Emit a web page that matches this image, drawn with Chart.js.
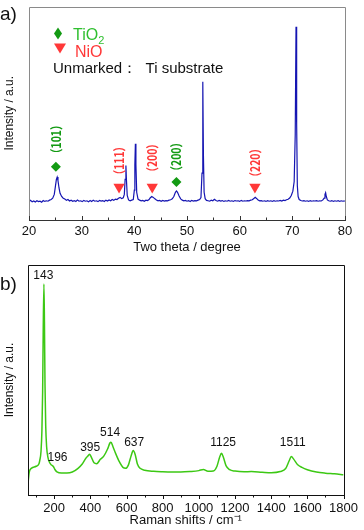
<!DOCTYPE html>
<html><head><meta charset="utf-8">
<script src="https://cdn.jsdelivr.net/npm/chart.js@4/dist/chart.umd.min.js"></script>
<style>
html,body{margin:0;padding:0;background:#fff;width:364px;height:530px;overflow:hidden}
#w1{position:absolute;left:0;top:0;width:364px;height:260px}
#w2{position:absolute;left:0;top:260px;width:364px;height:270px}
.pl{position:absolute;left:0;font-family:"Liberation Sans",Arial,sans-serif;font-size:19px;line-height:1;color:#111}
</style></head><body>
<div id="w1"><canvas id="c1" width="364" height="260"></canvas></div>
<div id="w2"><canvas id="c2" width="364" height="270"></canvas></div>
<div class="pl" style="top:4px">a)</div>
<div class="pl" style="top:274px">b)</div>
<script>
// ---------- Panel a: XRD ----------
const xrdTheta = [20.0,20.3,20.6,20.9,21.2,21.5,21.8,22.1,22.4,22.7,23.0,23.3,23.6,23.9,24.2,24.5,24.8,25.0,25.2,25.35,25.5,25.7,25.9,26.2,26.5,26.8,27.1,27.4,27.7,28.0,28.3,28.6,28.9,29.2,29.5,29.8,30.1,30.4,30.7,31.0,31.3,31.6,31.9,32.2,32.5,32.8,33.1,33.4,33.7,34.0,34.3,34.6,34.9,35.2,35.5,35.8,36.1,36.4,36.7,37.0,37.3,37.6,37.9,38.1,38.25,38.4,38.5,38.65,38.9,39.2,39.5,39.8,40.0,40.1,40.2,40.3,40.45,40.7,41.0,41.3,41.6,41.9,42.2,42.5,42.8,43.0,43.3,43.6,43.9,44.2,44.5,44.8,45.1,45.4,45.7,46.0,46.3,46.6,46.9,47.2,47.5,47.8,48.0,48.2,48.5,48.8,49.1,49.4,49.7,50.0,50.3,50.6,50.9,51.2,51.5,51.8,52.1,52.4,52.65,52.85,53.0,53.12,53.25,53.45,53.7,54.0,54.3,54.6,54.9,55.2,55.5,55.8,56.1,56.4,56.7,57.0,57.3,57.6,57.9,58.2,58.5,58.8,59.1,59.4,59.7,60.0,60.3,60.6,60.9,61.2,61.5,61.8,62.1,62.4,62.7,62.95,63.2,63.5,63.8,64.1,64.4,64.7,65.0,65.3,65.6,65.9,66.2,66.5,66.8,67.1,67.4,67.7,68.0,68.3,68.6,68.9,69.2,69.5,69.8,70.1,70.35,70.55,70.7,70.82,70.95,71.1,71.3,71.6,71.9,72.2,72.5,72.8,73.1,73.4,73.7,74.0,74.3,74.6,74.9,75.2,75.5,75.8,76.05,76.2,76.32,76.45,76.65,76.9,77.2,77.5,77.8,78.1,78.4,78.7,79.0,79.3,79.6,80.0];
const xrdIntensity = [8.6,9.2,8.5,8.9,8.4,9.0,8.6,8.8,8.3,9.1,8.7,9.0,8.8,9.3,9.6,10.2,12.0,15.5,19.0,20.1,18.5,15.0,12.5,11.0,10.2,9.8,9.2,9.6,8.9,9.3,8.8,9.1,8.7,9.4,8.8,9.0,8.6,9.2,8.8,9.0,8.5,9.1,8.7,9.3,8.8,9.0,8.6,9.2,8.9,9.1,8.7,9.3,8.9,9.4,9.0,9.6,9.2,9.8,9.6,10.2,10.6,10.0,10.4,12.0,19.0,25.5,19.0,11.5,9.4,9.0,9.3,9.6,14.0,26.0,35.7,26.0,13.0,9.8,9.3,9.0,9.2,8.8,9.3,9.1,9.6,10.3,11.0,10.6,9.9,9.4,9.0,9.2,8.8,9.2,8.9,9.1,9.0,9.3,9.5,9.9,11.0,13.0,13.6,13.0,11.2,9.9,9.3,9.0,9.2,8.8,9.1,8.7,9.2,8.9,9.1,9.0,9.3,9.6,10.5,22.0,64.8,30.0,13.0,10.0,9.2,9.0,8.8,9.3,9.0,9.7,9.1,8.8,9.2,8.9,9.1,8.7,9.0,8.8,9.2,8.8,9.0,8.7,9.1,8.9,9.0,8.7,9.2,8.8,9.0,8.9,9.1,9.0,9.3,9.5,10.1,10.6,10.1,9.4,9.0,9.1,8.8,9.0,8.7,9.1,8.8,9.0,8.7,9.1,8.8,9.0,8.9,9.2,8.9,9.3,9.1,9.5,9.7,10.3,11.5,13.5,18.0,40.0,90.5,45.0,16.0,11.0,9.6,9.1,8.9,9.1,8.8,9.0,8.7,9.1,8.8,9.0,8.9,9.1,8.8,9.0,8.9,9.4,10.2,12.0,12.8,11.0,9.4,9.0,8.8,9.1,8.7,9.0,8.8,9.1,8.7,9.0,8.8,8.9];
const xrdTickValues = [20,25,30,35,40,45,50,55,60,65,70,75,80];

const tio2Theta = [25.1, 48.0];
const tio2MarkerY = [25.0, 17.8];
const tio2Labels = ['（101）', '（200）'];
const tio2LabelY = [37.8, 29.6];

const nioTheta = [37.1, 43.4, 62.9];
const nioMarkerY = [15.4, 15.4, 15.4];
const nioLabels = ['（111）', '（200）', '（220）'];
const nioLabelY = [27.8, 29.1, 26.8];

// ---------- Panel b: Raman ----------
const ramanShift = [55,62,75,100,115,120,127,132,136,139,143,146,149,153,158,165,175,185,196,203,215,240,270,300,330,355,375,385,395,405,420,435,455,475,495,508,514,525,540,560,580,595,610,625,637,648,660,675,700,750,800,850,900,950,1000,1025,1050,1080,1100,1115,1125,1135,1150,1170,1200,1250,1290,1350,1400,1450,1480,1500,1511,1525,1545,1570,1600,1650,1700,1750,1800];
const ramanIntensity = [5.0,10.0,11.7,12.5,13.5,15.0,19.0,28.0,45.0,70.0,91.7,75.0,48.0,30.0,21.0,16.5,14.0,13.0,12.3,11.2,10.1,9.6,9.6,10.0,11.5,13.5,16.0,16.8,17.7,16.5,14.0,13.6,15.5,17.0,20.0,22.6,22.9,21.0,18.0,14.5,12.0,11.6,13.0,17.0,19.3,17.5,13.5,11.6,10.8,10.3,10.1,10.0,10.0,10.2,10.6,11.1,10.3,10.4,12.5,16.5,18.1,16.5,12.8,11.0,10.4,10.1,10.2,9.9,9.7,10.2,11.5,15.0,16.7,15.5,13.3,12.0,11.0,10.0,9.5,9.2,8.8];
const ramanTickValues = [100,200,300,400,500,600,700,800,900,1000,1100,1200,1300,1400,1500,1600,1700,1800];
const ramanLabels = ['143','196','395','514','637','1125','1511'];
const ramanLabelX = [140,218,399,509,642,1134,1519];
const ramanLabelY = [95.3,16.1,20.4,27.0,22.6,22.6,22.6];

const FONT = '"Liberation Sans", Arial, sans-serif';
Chart.defaults.font.family = FONT;
Chart.defaults.color = '#111';

function tickPlugin(id, inward, color) {
  return {
    id,
    afterDraw(chart) {
      const xs = chart.scales.x, ca = chart.chartArea, ctx = chart.ctx;
      ctx.save();
      ctx.strokeStyle = color; ctx.lineWidth = 1;
      xs.ticks.forEach(t => {
        const px = Math.round(xs.getPixelForValue(t.value)) + 0.5;
        const major = t.label !== '';
        const len = major ? 4 : 2.5;
        const y0 = ca.bottom;
        const y1 = inward ? y0 - len : y0 + len;
        ctx.beginPath(); ctx.moveTo(px, y0); ctx.lineTo(px, y1); ctx.stroke();
      });
      ctx.restore();
    }
  };
}
function framePlugin(id, sideColor, bottomColor) {
  return {
    id,
    afterDraw(chart) {
      const ca = chart.chartArea, ctx = chart.ctx;
      const l = Math.round(ca.left) + 0.5, r = Math.round(ca.right) + 0.5, t = Math.round(ca.top) + 0.5, b = Math.round(ca.bottom) + 0.5;
      ctx.save(); ctx.lineWidth = 1;
      ctx.strokeStyle = sideColor;
      ctx.beginPath(); ctx.moveTo(l, b); ctx.lineTo(l, t); ctx.lineTo(r, t); ctx.lineTo(r, b); ctx.stroke();
      ctx.strokeStyle = bottomColor;
      ctx.beginPath(); ctx.moveTo(l - 0.5, b); ctx.lineTo(r + 0.5, b); ctx.stroke();
      ctx.restore();
    }
  };
}

const GREEN_T = '#2fbf2f', GREEN_D = '#139a13', RED = '#ff3838';

const annotA = {
  id: 'annotA',
  afterDraw(chart) {
    const ctx = chart.ctx, xs = chart.scales.x, ys = chart.scales.y;
    ctx.save();
    ctx.font = 'bold 13px "Noto Sans CJK SC", ' + FONT;
    ctx.textAlign = 'center'; ctx.textBaseline = 'middle';
    const drawRot = (txt, x, y, col) => {
      ctx.save();
      ctx.translate(xs.getPixelForValue(x), ys.getPixelForValue(y));
      ctx.rotate(-Math.PI / 2);
      ctx.scale(0.8, 1);
      ctx.fillStyle = col;
      ctx.fillText(txt, 0, 0);
      ctx.restore();
    };
    tio2Labels.forEach((s, i) => drawRot(s, tio2Theta[i], tio2LabelY[i], GREEN_D));
    nioLabels.forEach((s, i) => drawRot(s, nioTheta[i], nioLabelY[i], RED));
    // legend
    const ca = chart.chartArea;
    const lx = ca.left, ty = ca.top;
    ctx.fillStyle = GREEN_D;
    ctx.beginPath();
    ctx.moveTo(lx + 29, ty + 21); ctx.lineTo(lx + 33, ty + 27); ctx.lineTo(lx + 29, ty + 33); ctx.lineTo(lx + 25, ty + 27); ctx.closePath(); ctx.fill();
    ctx.textAlign = 'left'; ctx.textBaseline = 'alphabetic';
    ctx.font = '16px ' + FONT;
    ctx.fillStyle = GREEN_T;
    ctx.fillText('TiO', lx + 44, ty + 33);
    const w = ctx.measureText('TiO').width;
    ctx.font = '11px ' + FONT;
    ctx.fillText('2', lx + 44 + w, ty + 37);
    ctx.fillStyle = RED;
    ctx.beginPath();
    ctx.moveTo(lx + 25, ty + 37); ctx.lineTo(lx + 37, ty + 37); ctx.lineTo(lx + 31, ty + 47); ctx.closePath(); ctx.fill();
    ctx.font = '16px ' + FONT;
    ctx.fillText('NiO', lx + 46, ty + 50);
    ctx.fillStyle = '#111';
    ctx.font = '15px ' + FONT;
    ctx.fillText('Unmarked：  Ti substrate', lx + 24, ty + 66);
    ctx.restore();
  }
};

const annotB = {
  id: 'annotB',
  afterDraw(chart) {
    const ctx = chart.ctx, xs = chart.scales.x, ys = chart.scales.y;
    ctx.save();
    ctx.font = '12px ' + FONT;
    ctx.fillStyle = '#111';
    ctx.textAlign = 'center'; ctx.textBaseline = 'middle';
    ramanLabels.forEach((s, i) => ctx.fillText(s, xs.getPixelForValue(ramanLabelX[i]), ys.getPixelForValue(ramanLabelY[i])));
    ctx.restore();
  }
};

new Chart(document.getElementById('c1'), {
  type: 'scatter',
  data: {
    datasets: [
      { type: 'line', data: xrdTheta.map((x, i) => ({ x, y: xrdIntensity[i] })), borderColor: '#1515b2', borderWidth: 1.2, pointRadius: 0, tension: 0, order: 3 },
      { data: tio2Theta.map((x, i) => ({ x, y: tio2MarkerY[i] })), pointStyle: 'rectRot', pointRadius: 5, backgroundColor: GREEN_D, borderColor: GREEN_D, borderWidth: 0, order: 1 },
      { data: nioTheta.map((x, i) => ({ x, y: nioMarkerY[i] })), pointStyle: 'triangle', rotation: 180, pointRadius: 6.5, backgroundColor: RED, borderColor: RED, borderWidth: 0, order: 1 }
    ]
  },
  options: {
    responsive: false, animation: false,
    plugins: { legend: { display: false }, tooltip: { enabled: false } },
    layout: { padding: { top: 2, right: 19, left: 0, bottom: 0 } },
    scales: {
      x: {
        type: 'linear', min: 20, max: 80,
        afterBuildTicks: s => { s.ticks = xrdTickValues.map(v => ({ value: v })); },
        ticks: { callback: v => (v % 10 === 0 ? String(v) : ''), font: { size: 13 }, color: '#111', padding: 4, maxRotation: 0, autoSkip: false },
        grid: { display: false, drawTicks: false }, border: { display: false },
        title: { display: true, text: 'Two theta / degree', font: { size: 13 }, color: '#111', padding: { top: 0, bottom: 5 } },
        afterFit: s => { s.height = 40; }
      },
      y: {
        min: 0, max: 100,
        ticks: { display: false }, grid: { display: false, drawTicks: false }, border: { display: false },
        title: { display: true, text: 'Intensity / a.u.', font: { size: 12 }, color: '#111', padding: { top: 2, bottom: 0 } },
        afterFit: s => { s.width = 29; }
      }
    }
  },
  plugins: [framePlugin('frameA', '#8a8a8a', '#333'), tickPlugin('ticksA', true, '#333'), annotA]
});

new Chart(document.getElementById('c2'), {
  type: 'scatter',
  data: {
    datasets: [
      { type: 'line', data: ramanShift.map((x, i) => ({ x, y: ramanIntensity[i] })), borderColor: '#3cc814', borderWidth: 1.5, pointRadius: 0, tension: 0.35, cubicInterpolationMode: 'monotone' }
    ]
  },
  options: {
    responsive: false, animation: false,
    plugins: { legend: { display: false }, tooltip: { enabled: false } },
    layout: { padding: { top: 5, right: 16, left: 0, bottom: 0 } },
    scales: {
      x: {
        type: 'linear', min: 55, max: 1800,
        afterBuildTicks: s => { s.ticks = ramanTickValues.map(v => ({ value: v })); },
        ticks: { callback: v => (v % 200 === 0 ? String(v) : ''), font: { size: 13 }, color: '#111', padding: 6, maxRotation: 0, autoSkip: false },
        grid: { display: false, drawTicks: false }, border: { display: false },
        title: { display: true, text: 'Raman shifts / cm⁻¹', font: { size: 13 }, color: '#111', padding: { top: 0, bottom: 2 } },
        afterFit: s => { s.height = 35; }
      },
      y: {
        min: 0, max: 100,
        ticks: { display: false }, grid: { display: false, drawTicks: false }, border: { display: false },
        title: { display: true, text: 'Intensity / a.u.', font: { size: 12 }, color: '#111', padding: { top: 2, bottom: 0 } },
        afterFit: s => { s.width = 28; }
      }
    }
  },
  plugins: [framePlugin('frameB', '#111', '#111'), tickPlugin('ticksB', false, '#111'), annotB]
});
</script>
</body></html>
